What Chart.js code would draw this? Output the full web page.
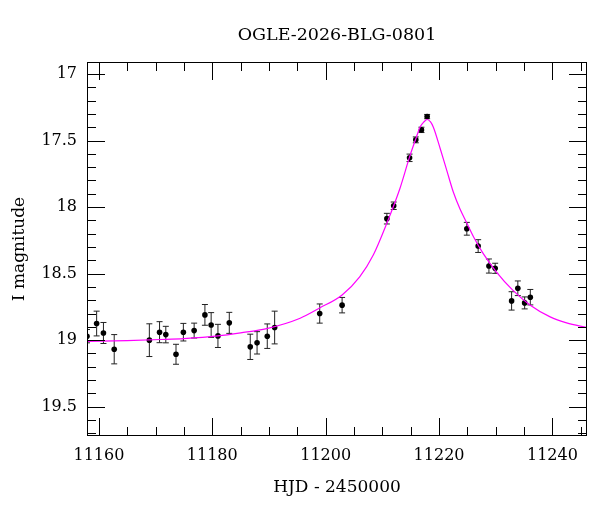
<!DOCTYPE html>
<html>
<head>
<meta charset="utf-8">
<script src="https://cdn.jsdelivr.net/npm/chart.js@4/dist/chart.umd.min.js"></script>
<style>
    body { margin: 0; background: #fff; }
</style>
</head>
<body>
<canvas id="lightCurve" width="600" height="512"></canvas>
<script>
// Photometry (HJD - 2450000, I mag, error)
let obsDays = [11157.9, 11159.6, 11160.8, 11162.7, 11168.9, 11170.7, 11171.8, 11173.6, 11174.9, 11176.8,
    11178.7, 11179.8, 11181.0, 11183.0, 11186.7, 11187.9, 11189.7, 11191.0, 11198.95, 11202.9,
    11210.8, 11212.0, 11214.8, 11215.9, 11216.9, 11217.9, 11224.9, 11226.9, 11228.8, 11229.9,
    11232.8, 11233.9, 11235.1, 11236.1];
let obsMags = [18.97, 18.875, 18.946, 19.068, 19.00, 18.94, 18.958, 19.106, 18.94, 18.928,
    18.81, 18.886, 18.968, 18.87, 19.05, 19.02, 18.97, 18.905, 18.80, 18.737,
    18.087, 17.99, 17.63, 17.495, 17.42, 17.32, 18.163, 18.293, 18.443, 18.46,
    18.705, 18.61, 18.72, 18.677];
let obsErrs = [0.05, 0.093, 0.079, 0.11, 0.123, 0.079, 0.062, 0.075, 0.066, 0.056,
    0.078, 0.093, 0.087, 0.079, 0.095, 0.084, 0.092, 0.123, 0.072, 0.058,
    0.04, 0.028, 0.028, 0.022, 0.02, 0.016, 0.048, 0.048, 0.053, 0.038,
    0.069, 0.055, 0.045, 0.058];

// Model curve
let modelDays = [11157.9, 11165.0, 11170.8, 11175.0, 11181.0, 11185.0, 11189.6, 11195.5, 11199.0, 11202.9,
    11206.0, 11208.4, 11210.8, 11213.1, 11214.9, 11216.0, 11216.7, 11217.3, 11217.9, 11218.5,
    11219.0, 11220.2, 11221.4, 11222.5, 11223.7, 11224.9, 11226.1, 11227.8, 11230.1, 11233.0,
    11236.1, 11239.6, 11242.5, 11246.1];
let modelMags = [19.010, 19.003, 18.995, 18.988, 18.968, 18.945, 18.913, 18.835, 18.757, 18.660,
    18.524, 18.360, 18.120, 17.860, 17.610, 17.475, 17.395, 17.362, 17.342, 17.360,
    17.400, 17.560, 17.730, 17.885, 18.015, 18.120, 18.225, 18.350, 18.486, 18.624,
    18.737, 18.825, 18.870, 18.905];

// Axis ticks
let xTicks = [11160, 11180, 11200, 11220, 11240];
let xMinor = [11160, 11165, 11170, 11175, 11180, 11185, 11190, 11195, 11200, 11205,
    11210, 11215, 11220, 11225, 11230, 11235, 11240, 11245];
let yTicks = [17, 17.5, 18, 18.5, 19, 19.5];
let yMinor = [17, 17.1, 17.2, 17.3, 17.4, 17.5, 17.6, 17.7, 17.8, 17.9, 18, 18.1, 18.2, 18.3, 18.4,
    18.5, 18.6, 18.7, 18.8, 18.9, 19, 19.1, 19.2, 19.3, 19.4, 19.5, 19.6, 19.7];

const SERIF = "'DejaVu Serif', 'Liberation Serif', serif";

// Frame with inward ticks on all four sides
let framePlugin = {
    id: 'frame',
    afterDraw: chart => {
        let ctx = chart.ctx;
        let area = chart.chartArea;
        let x = chart.scales.x;
        let y = chart.scales.y;
        ctx.save();
        ctx.strokeStyle = '#000';
        ctx.lineWidth = 1;
        ctx.strokeRect(area.left + 0.5, area.top + 0.5, area.right - area.left - 1, area.bottom - area.top - 1);
        ctx.beginPath();
        xMinor.forEach(v => {
            let px = Math.round(x.getPixelForValue(v)) + 0.5;
            let len = xTicks.includes(v) ? 18 : 9;
            ctx.moveTo(px, area.bottom);
            ctx.lineTo(px, area.bottom - len);
            ctx.moveTo(px, area.top);
            ctx.lineTo(px, area.top + len);
        })
        yMinor.forEach(v => {
            let py = Math.round(y.getPixelForValue(v)) + 0.5;
            let len = yTicks.includes(v) ? 18 : 9;
            ctx.moveTo(area.left, py);
            ctx.lineTo(area.left + len, py);
            ctx.moveTo(area.right, py);
            ctx.lineTo(area.right - len, py);
        })
        ctx.stroke();
        ctx.restore();
    }
}

// Error bars with small caps, drawn under the points
let errorBarPlugin = {
    id: 'errorBars',
    beforeDatasetDraw: (chart, args) => {
        if (args.index != 1) return;
        let ctx = chart.ctx;
        let area = chart.chartArea;
        let x = chart.scales.x;
        let y = chart.scales.y;
        ctx.save();
        ctx.beginPath();
        ctx.rect(area.left, area.top, area.right - area.left, area.bottom - area.top);
        ctx.clip();
        ctx.strokeStyle = '#222';
        ctx.lineWidth = 1;
        ctx.beginPath();
        for (var i = 0; i < obsDays.length; i++) {
            let px = x.getPixelForValue(obsDays[i]);
            let top = y.getPixelForValue(obsMags[i] - obsErrs[i]);
            let bot = y.getPixelForValue(obsMags[i] + obsErrs[i]);
            ctx.moveTo(px, top);
            ctx.lineTo(px, bot);
            ctx.moveTo(px - 3, top);
            ctx.lineTo(px + 3, top);
            ctx.moveTo(px - 3, bot);
            ctx.lineTo(px + 3, bot);
        }
        ctx.stroke();
        ctx.restore();
    }
}

let toPoints = (xs, ys) => xs.map((v, i) => ({ x: v, y: ys[i] }));

let chart = new Chart(document.getElementById('lightCurve'), {
    type: 'scatter',
    data: {
        datasets: [{
            label: 'model',
            data: toPoints(modelDays, modelMags),
            showLine: true,
            borderColor: '#ff00ff',
            borderWidth: 1.2,
            pointRadius: 0,
            cubicInterpolationMode: 'monotone',
            fill: false
        }, {
            label: 'OGLE',
            data: toPoints(obsDays, obsMags),
            pointRadius: 2.8,
            pointBackgroundColor: '#000',
            pointBorderWidth: 0,
            showLine: false,
            clip: 0
        }]
    },
    options: {
        responsive: false,
        animation: false,
        layout: { padding: { left: 0, right: 13, top: 0, bottom: 0 } },
        plugins: {
            legend: { display: false },
            tooltip: { enabled: false },
            title: {
                display: true,
                fullSize: false,
                text: 'OGLE-2026-BLG-0801',
                color: '#000',
                font: { family: SERIF, size: 17.5, weight: 'normal' },
                padding: { top: 24.5, bottom: 16.5 }
            }
        },
        scales: {
            x: {
                type: 'linear',
                min: 11157.9,
                max: 11246.1,
                grid: { display: false, drawTicks: false },
                border: { display: false },
                afterBuildTicks: scale => { scale.ticks = xTicks.map(v => ({ value: v })) },
                afterFit: scale => { scale.height = 76 },
                ticks: {
                    color: '#000',
                    padding: 10,
                    maxRotation: 0,
                    font: { family: SERIF, size: 16 },
                    callback: v => String(v)
                },
                title: {
                    display: true,
                    text: 'HJD - 2450000',
                    color: '#000',
                    font: { family: SERIF, size: 17 },
                    padding: { top: 0, bottom: 13.8 }
                }
            },
            y: {
                type: 'linear',
                reverse: true,
                min: 16.91,
                max: 19.72,
                grid: { display: false, drawTicks: false },
                border: { display: false },
                afterBuildTicks: scale => { scale.ticks = yTicks.map(v => ({ value: v })) },
                afterFit: scale => { scale.width = 87 },
                ticks: {
                    color: '#000',
                    padding: 10,
                    font: { family: SERIF, size: 16 },
                    callback: v => String(v)
                },
                title: {
                    display: true,
                    text: 'I magnitude',
                    color: '#000',
                    font: { family: SERIF, size: 17 },
                    padding: { top: 9.5, bottom: 0 }
                }
            }
        }
    },
    plugins: [errorBarPlugin, framePlugin]
});
</script>
</body>
</html>
